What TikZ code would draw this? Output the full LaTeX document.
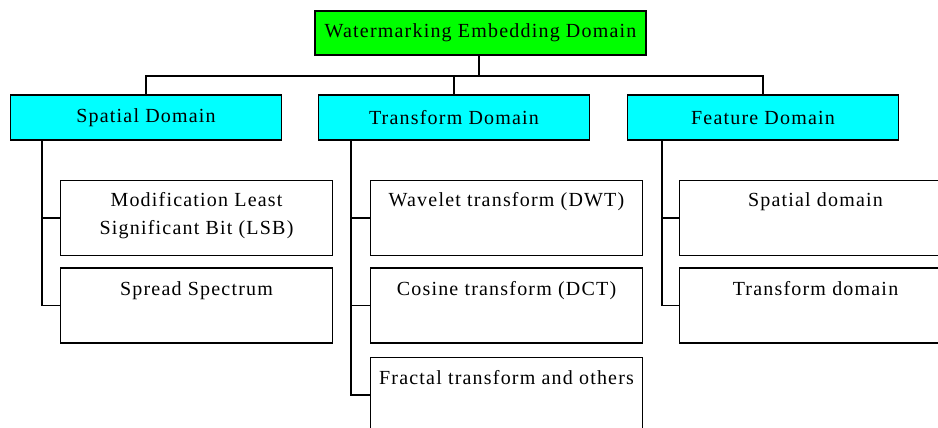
\documentclass[tikz,border=0pt]{standalone}
\usepackage{fontspec}
\setmainfont{Liberation Serif}[LetterSpace=6]
\definecolor{rootgreen}{HTML}{00FF00}
\definecolor{catcyan}{HTML}{00FFFF}
\begin{document}
\begin{tikzpicture}[x=1pt,y=-1pt,
  font=\fontsize{20pt}{28pt}\selectfont,
  every node/.style={inner sep=0pt},
  rootbox/.style={draw=black, line width=1.9pt, fill=rootgreen, minimum width=331pt, minimum height=44pt},
  catbox/.style={draw=black, line width=1.9pt, fill=catcyan, minimum width=271pt, minimum height=45pt},
  leafbox/.style={draw=black, line width=1.9pt, fill=white, minimum width=272pt, minimum height=75pt},
  leaftext/.style={align=center, anchor=north},
  wire/.style={line width=1.9pt}]
\useasboundingbox (0,0) rectangle (938,428);
\clip (0,0) rectangle (938,428);
\fill[white] (0,0) rectangle (938,428);

% root and categories
\node[rootbox] (root) at (480.5,33) {Watermarking Embedding Domain};
\node[catbox] (sp) at (146,117.5) {Spatial Domain};
\node[catbox] (tr) at (454,117.5) {Transform Domain};
\node[catbox] (fe) at (763,117.5) {Feature Domain};

% leaves
\node[leafbox] (s1) at (196.5,218) {};
\node[leafbox] (s2) at (196.5,305.5) {};
\node[leafbox] (t1) at (506.5,218) {};
\node[leafbox] (t2) at (506.5,305.5) {};
\node[leafbox] (t3) at (506.5,395) {};
\node[leafbox] (f1) at (815.5,218) {};
\node[leafbox] (f2) at (815.5,305.5) {};

\node[leaftext] (s1t) at ([yshift=-13pt]s1.north) {Modification Least\\Significant Bit (LSB)};
\node[leaftext] (s2t) at ([yshift=-14pt]s2.north) {Spread Spectrum};
\node[leaftext] (t1t) at ([yshift=-13pt]t1.north) {Wavelet transform (DWT)};
\node[leaftext] (t2t) at ([yshift=-14pt]t2.north) {Cosine transform (DCT)};
\node[leaftext] (t3t) at ([yshift=-14pt]t3.north) {Fractal transform and others};
\node[leaftext] (f1t) at ([yshift=-13pt]f1.north) {Spatial domain};
\node[leaftext] (f2t) at ([yshift=-14pt]f2.north) {Transform domain};

% top connectors
\coordinate (bus) at (479,76);
\draw[wire] (root.south -| bus) -- (bus);
\draw[wire] (sp.north) -- (sp.north |- bus) -- (fe.north |- bus) -- (fe.north);
\draw[wire] (tr.north) -- (tr.north |- bus);

% trunks
\coordinate (spT) at (42,140);
\coordinate (trT) at (351,140);
\coordinate (feT) at (662,140);
\draw[wire] (spT) |- (s2.west);
\draw[wire] (spT |- s1.west) -- (s1.west);
\draw[wire] (trT) |- (t3.west);
\draw[wire] (trT |- t1.west) -- (t1.west);
\draw[wire] (trT |- t2.west) -- (t2.west);
\draw[wire] (feT) |- (f2.west);
\draw[wire] (feT |- f1.west) -- (f1.west);
\end{tikzpicture}
\end{document}
